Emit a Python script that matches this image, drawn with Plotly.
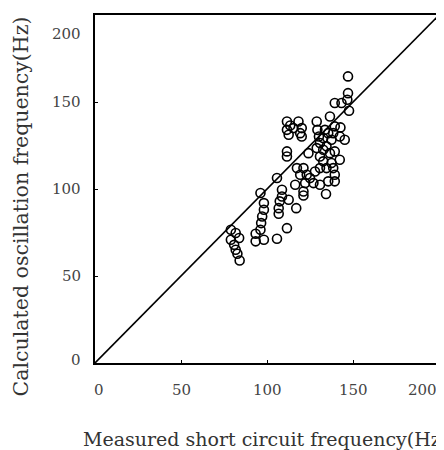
import plotly.graph_objects as go

measured = [147.1, 147.1, 146.7, 139.4, 143.3, 147.7,
            111.6, 111.6, 112.6, 118.3, 120.2, 120.2, 115.4, 113.5, 119.3,
            128.9, 129.3, 130.2, 136.6, 139.4, 142.7, 145.2, 142.3, 135.6, 132.7, 137.5,
            133.7, 138.5, 130.8, 128.9, 134.6, 136.6, 130.8, 124.1, 132.7, 139.4,
            111.6, 111.6, 142.3, 132.7, 137.5, 117.4, 121.2, 123.1, 127.9, 130.8,
            134.6, 138.5, 139.4, 139.4, 135.6, 130.8, 127.0, 122.2, 121.2, 121.2,
            116.4, 134.3, 119.3, 125.0, 105.8, 96.2, 108.7, 108.7, 107.4, 106.8, 106.8,
            112.6, 117.0, 98.2, 98.2, 97.2, 96.6, 96.2, 93.4, 93.4, 98.2, 111.6, 105.8,
            79.0, 81.8, 83.8, 79.0, 80.9, 81.8, 82.8, 84.1]
calculated = [164.7, 155.1, 151.3, 149.4, 149.4, 145.0,
              138.8, 134.0, 131.2, 138.8, 135.0, 130.2, 135.0, 136.5, 132.1,
              138.8, 134.0, 130.2, 141.7, 136.0, 135.4, 128.3, 130.2, 132.1, 129.3, 128.3,
              134.0, 132.1, 126.4, 123.5, 124.5, 120.6, 118.7, 120.6, 122.6, 121.6,
              121.6, 118.7, 116.8, 115.9, 114.9, 112.0, 112.0, 108.2, 110.1, 112.0,
              112.0, 112.0, 108.2, 104.4, 104.4, 102.4, 103.4, 103.4, 98.6, 96.3,
              102.4, 97.1, 108.2, 106.3, 106.3, 97.7, 99.6, 95.7, 92.9, 89.0, 85.8,
              93.8, 89.0, 91.9, 88.1, 84.2, 80.4, 76.6, 74.3, 69.9, 70.8, 77.5, 71.4,
              76.6, 74.7, 71.8, 70.8, 67.9, 65.1, 62.8, 58.9]

line_x = [0, 200]
line_y = [0, 200]
tick_vals = [0, 50, 100, 150, 200]
tick_text = ["0", "50", "100", "150", "200"]

fig = go.Figure()
fig.add_trace(go.Scatter(x=line_x, y=line_y, mode="lines",
                         line=dict(color="black", width=1.6), hoverinfo="skip"))
fig.add_trace(go.Scatter(x=measured, y=calculated, mode="markers",
                         marker=dict(symbol="circle-open", size=9, color="black",
                                     line=dict(width=1.6, color="black"))))

font_fam = "DejaVu Serif, Liberation Serif, serif"
tick_font = dict(family=font_fam, size=15, color="#444")
axis_common = dict(range=[0, 200], tickvals=tick_vals,
                   showgrid=False, zeroline=False, showline=True, mirror=True,
                   linecolor="black", linewidth=2, ticks="inside", ticklen=3,
                   tickcolor="black", showticklabels=False)
fig.update_xaxes(**axis_common)
fig.update_yaxes(**axis_common)

# tick labels as annotations so the end labels stay inside the canvas
n = len(tick_vals)
for i, (v, t) in enumerate(zip(tick_vals, tick_text)):
    last = i == n - 1
    fig.add_annotation(text=t, x=v, xref="x", y=0, yref="paper", yshift=-27,
                       xanchor="right" if last else "center", yanchor="middle",
                       xshift=0 if last else (4 if i == 0 else 0),
                       showarrow=False, font=tick_font)
    fig.add_annotation(text=t, x=0, xref="paper", xshift=-12, y=v, yref="y",
                       xanchor="right", yanchor="top" if last else "middle",
                       yshift=-8 if last else (3 if i == 0 else 0),
                       showarrow=False, font=tick_font)

fig.add_annotation(text="Measured short circuit frequency(Hz)", xref="paper", yref="paper",
                   x=0.5, xshift=-2, y=-0.218, xanchor="center", yanchor="middle",
                   showarrow=False, font=dict(family=font_fam, size=19, color="#333"))
fig.add_annotation(text="Calculated oscillation frequency(Hz)", xref="paper", yref="paper",
                   x=0, xshift=-74, y=0.45, xanchor="center", yanchor="middle",
                   showarrow=False, textangle=-90,
                   font=dict(family=font_fam, size=20.5, color="#333"))

# page body adds an 8px offset, so the figure is sized to the visible area
fig.update_layout(width=436, height=442, showlegend=False,
                  margin=dict(l=87, r=3, t=7, b=87),
                  plot_bgcolor="white", paper_bgcolor="white")
fig.write_html("out.html")
